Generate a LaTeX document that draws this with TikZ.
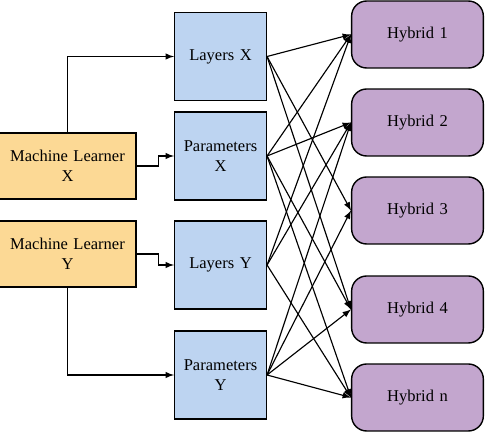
\documentclass[tikz,border=0pt]{standalone}
\usepackage{fontspec}
\setmainfont{Liberation Serif}
\definecolor{fondjaune}{HTML}{FCD995}
\definecolor{fondbleu}{HTML}{BDD4F1}
\definecolor{fondmauve}{HTML}{C3A6CE}
\tikzstyle{jaune} = [rectangle, draw=black, line width=0.8pt, fill=fondjaune, minimum height=1.32cm, minimum width=2.66cm, text width=2.5cm, text centered]
\tikzstyle{bleu} = [rectangle, draw=black, line width=0.8pt, fill=fondbleu, minimum height=1.76cm, minimum width=1.74cm, text width=1.6cm, text centered]
\tikzstyle{mauve} = [rectangle, rounded corners=0.3cm, draw=black, line width=0.8pt, fill=fondmauve, minimum height=1.34cm, minimum width=2.62cm, text width=2.4cm, text centered]
\tikzstyle{fleche} = [->, line width=0.65pt]

\begin{document}
\begin{tikzpicture}[x=0.02cm, y=-0.02cm, >=latex, font=\fontsize{9.4pt}{11.4pt}\selectfont]
                \useasboundingbox (0,0) rectangle (485,432);

                \node [jaune] (mlx) at (67.5,166) {Machine Learner\\X};
                \node [jaune] (mly) at (67.5,254) {Machine Learner\\Y};

                \node [bleu] (lx) at (220.5,56.5) {Layers X};
                \node [bleu] (px) at (220.5,156) {Parameters\\X};
                \node [bleu] (ly) at (220.5,265) {Layers Y};
                \node [bleu] (py) at (220.5,375) {Parameters\\Y};

                \node [mauve] (h1) at (417.5,34.5) {Hybrid 1};
                \node [mauve] (h2) at (417.5,122.5) {Hybrid 2};
                \node [mauve] (h3) at (417.5,210.5) {Hybrid 3};
                \node [mauve] (h4) at (417.5,309.5) {Hybrid 4};
                \node [mauve] (hn) at (417.5,397.5) {Hybrid n};

                % learners vers couches et parametres
                \draw[fleche] (mlx.north) |- (lx.west);
                \draw[fleche] (mlx.east) -- ++(22,0) |- (px.west);
                \draw[fleche] (mly.east) -- ++(22,0) |- (ly.west);
                \draw[fleche] (mly.south) |- (py.west);

                % croisements vers les hybrides
                \draw[fleche] (lx.east) -- (h1.west);
                \draw[fleche] (lx.east) -- (h3.west);
                \draw[fleche] (lx.east) -- (h4.west);
                \draw[fleche] (px.east) -- (h1.west);
                \draw[fleche] (px.east) -- (h2.west);
                \draw[fleche] (px.east) -- (h4.west);
                \draw[fleche] (px.east) -- (hn.west);
                \draw[fleche] (ly.east) -- (h1.west);
                \draw[fleche] (ly.east) -- (h2.west);
                \draw[fleche] (ly.east) -- (hn.west);
                \draw[fleche] (py.east) -- (h2.west);
                \draw[fleche] (py.east) -- (h3.west);
                \draw[fleche] (py.east) -- (h4.west);
                \draw[fleche] (py.east) -- (hn.west);
            \end{tikzpicture}
\end{document}
